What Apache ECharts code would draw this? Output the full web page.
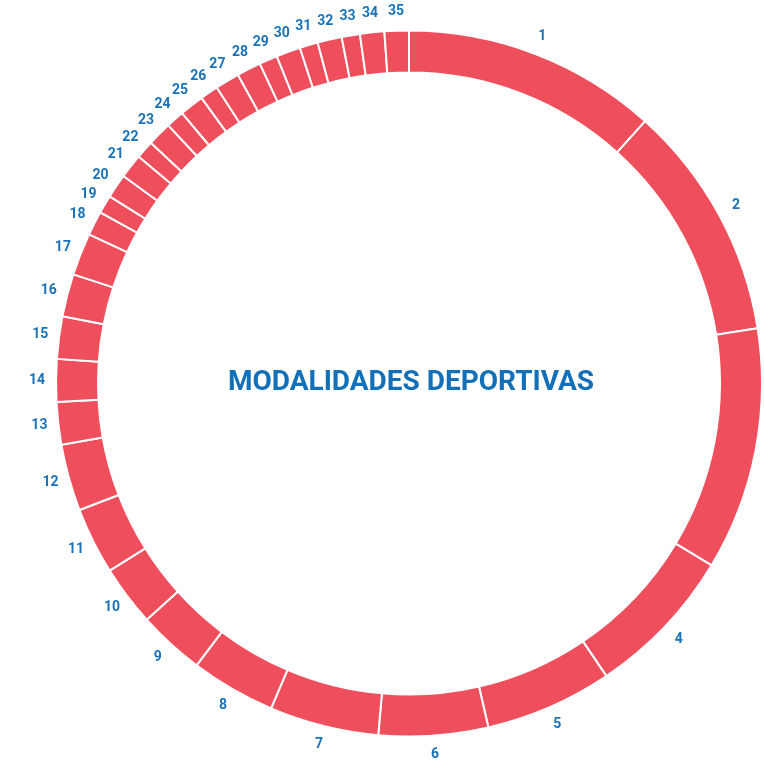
<!DOCTYPE html>
<html>
<head>
<meta charset="utf-8">
<script src="https://cdn.jsdelivr.net/npm/echarts@6/dist/echarts.min.js"></script>
<style>
html,body{margin:0;padding:0;background:#fff;}
#chart{width:764px;height:765px;}
</style>
</head>
<body>
<div id="chart"></div>
<script>
var categories = ['1','2','3','4','5','6','7','8','9','10','11','12','13','14','15','16','17','18','19','20','21','22','23','24','25','26','27','28','29','30','31','32','33','34','35'];
var values = [42,39,40,25,21,18,18,14,11,10,11,11,7,7,7,7,7,4,3,4,4,3,4,3,4,3,4,4,3,4,3,4,3,4,4];
var centerTitle = 'MODALIDADES DEPORTIVAS';

var data = categories.map(function(c, i){ return {name: c, value: values[i]}; });
var chart = echarts.init(document.getElementById('chart'), null, {renderer: 'canvas'});
var center = [409, 383.5];
chart.setOption({
  animation: false,
  graphic: [{
    type: 'text',
    x: 411, y: 383,
    style: {
      text: centerTitle,
      textAlign: 'center', textVerticalAlign: 'middle',
      fill: '#1170b8', fontSize: 28, fontWeight: 'bold', fontFamily: 'Roboto, sans-serif'
    }
  }],
  series: [
    {
      type: 'pie',
      center: center,
      radius: [311, 353],
      startAngle: 90,
      clockwise: true,
      data: data,
      label: {show: false},
      labelLine: {show: false},
      itemStyle: {color: '#ef4f5d', borderColor: '#ffffff', borderWidth: 2},
      emphasis: {disabled: true}
    },
    {
      type: 'pie',
      center: center,
      radius: [358, 380],
      startAngle: 90,
      clockwise: true,
      data: data,
      silent: true,
      itemStyle: {color: 'rgba(0,0,0,0)'},
      label: {show: true, position: 'inside', formatter: '{b}', color: '#1a72b8', fontSize: 14, fontWeight: 'bold', fontFamily: 'Roboto, sans-serif'},
      labelLine: {show: false},
      emphasis: {disabled: true}
    }
  ]
});
</script>
</body>
</html>
